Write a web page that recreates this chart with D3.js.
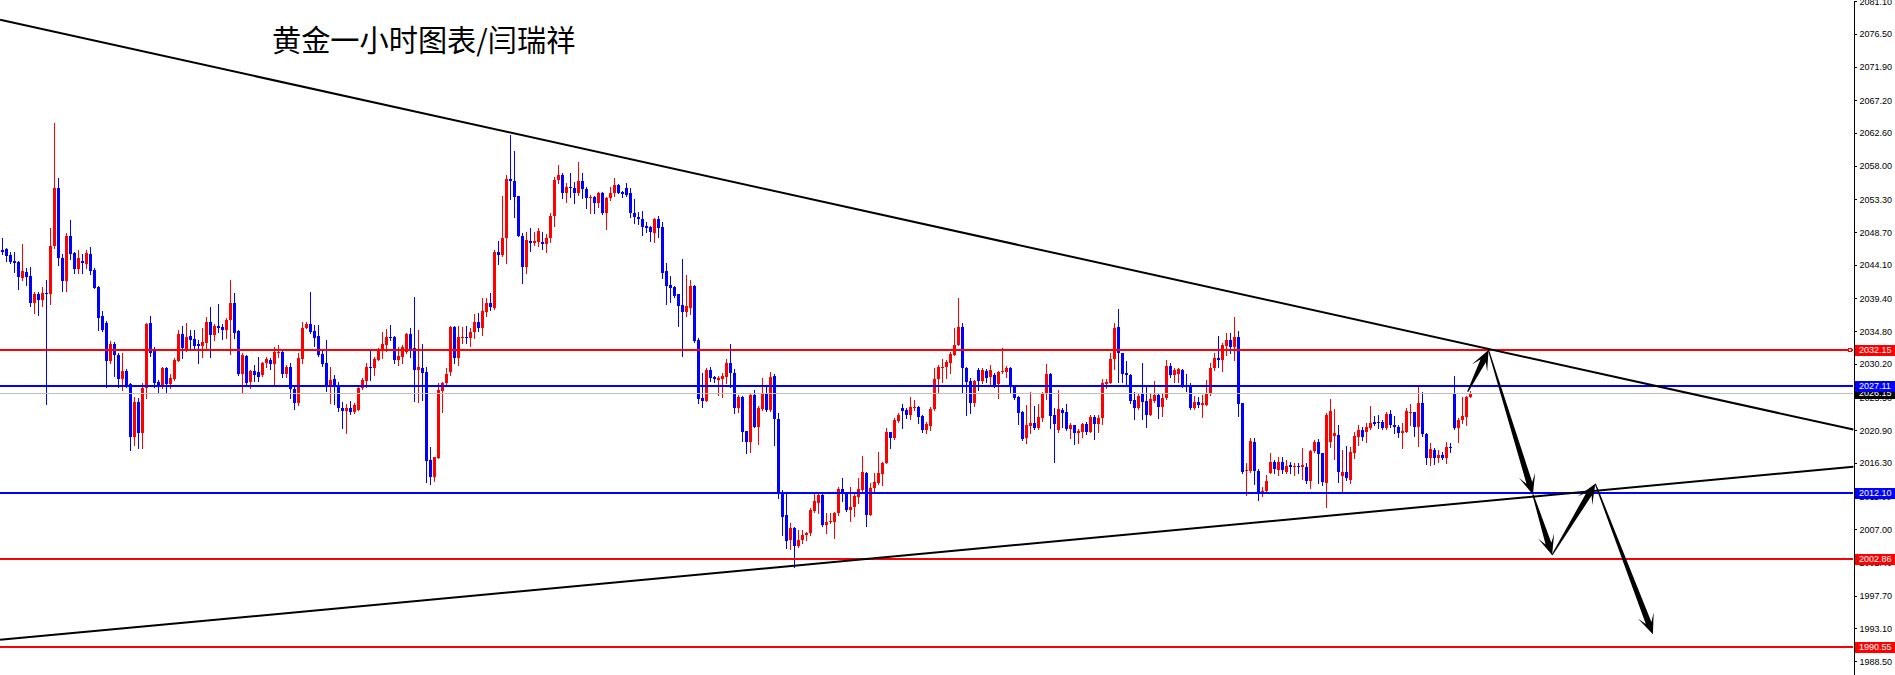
<!DOCTYPE html>
<html><head><meta charset="utf-8">
<script src="https://cdn.jsdelivr.net/npm/d3@7"></script>
<style>html,body{margin:0;padding:0;background:#fff;overflow:hidden}</style>
</head><body><svg id="c" width="1895" height="675"></svg>
<script>
const title = "黄金一小时图表/闫瑞祥";

const open = [
2046.24,2046.33,2045.49,2044.65,2044.46,2042.31,2043.11,2042.55,2038.80,2040.02,
2039.18,2040.16,2039.97,2046.75,2054.85,2045.02,2041.84,2048.16,2045.73,2043.53,
2044.65,2044.23,2045.63,2043.39,2041.05,2036.93,2036.00,2030.62,2032.96,2031.46,
2028.09,2029.22,2027.39,2020.00,2024.91,2020.47,2026.78,2036.00,2032.07,2027.72,
2027.16,2029.68,2027.39,2028.05,2030.67,2034.41,2032.16,2034.13,2033.66,2033.00,
2032.72,2033.19,2036.14,2034.27,2035.53,2035.44,2034.97,2036.37,2038.80,2034.88,
2028.75,2031.32,2027.67,2029.22,2029.08,2028.61,2030.29,2030.76,2030.15,2031.79,
2031.88,2028.80,2029.82,2026.74,2024.68,2030.90,2035.29,2035.81,2034.82,2034.12,
2031.60,2030.29,2027.15,2028.04,2027.15,2024.07,2023.60,2023.97,2023.46,2023.74,
2026.78,2027.86,2029.73,2029.59,2030.76,2032.25,2032.86,2033.94,2034.03,2030.76,
2031.22,2031.92,2034.40,2032.39,2029.35,2029.59,2029.07,2016.73,2014.39,2017.05,
2026.45,2027.48,2029.12,2035.43,2031.08,2033.89,2034.03,2033.89,2034.64,2036.13,
2035.20,2037.54,2038.80,2038.01,2045.96,2045.49,2047.83,2056.15,2055.87,2053.77,
2048.20,2043.85,2047.45,2047.22,2047.36,2047.31,2047.08,2047.92,2050.96,2056.01,
2056.71,2054.14,2054.98,2054.84,2054.14,2055.87,2054.70,2053.44,2053.67,2052.74,
2054.14,2051.33,2053.44,2054.14,2055.31,2054.37,2054.84,2054.23,2051.43,2050.87,
2050.54,2049.56,2049.46,2048.53,2050.54,2049.46,2043.24,2041.28,2041.04,2039.97,
2038.47,2037.44,2038.00,2041.14,2033.56,2025.38,2025.05,2029.35,2028.32,2027.95,
2028.04,2028.42,2030.38,2028.98,2023.97,2025.52,2020.79,2019.30,2025.85,2021.40,
2023.83,2026.17,2023.74,2028.51,2022.43,2012.28,2009.01,2005.51,2007.24,2004.71,
2005.51,2006.21,2006.45,2009.58,2010.75,2011.82,2007.66,2007.99,2007.99,2009.25,
2012.62,2012.29,2009.72,2010.09,2011.59,2012.52,2014.96,2009.02,2012.76,2013.55,
2014.77,2016.36,2020.62,2019.77,2022.25,2024.08,2023.75,2023.05,2023.98,2024.22,
2022.91,2020.94,2021.55,2023.89,2028.05,2029.69,2029.74,2030.39,2031.47,2032.87,
2035.44,2029.60,2027.82,2024.78,2029.36,2027.82,2029.27,2028.43,2028.66,2027.40,
2029.04,2029.08,2029.60,2027.12,2025.53,2023.52,2019.87,2021.55,2021.97,2021.18,
2022.67,2026.09,2028.80,2023.05,2020.94,2023.75,2023.47,2021.04,2021.64,2020.48,
2020.71,2021.78,2020.71,2022.81,2021.74,2022.58,2027.40,2027.59,2030.86,2035.35,
2031.79,2028.89,2028.66,2025.15,2023.98,2025.95,2025.01,2023.05,2025.06,2025.85,
2024.22,2025.39,2029.92,2028.66,2028.75,2029.36,2027.12,2027.12,2024.08,2024.83,
2024.45,2024.45,2026.09,2029.60,2031.00,2030.76,2032.73,2033.57,2032.64,2034.04,
2024.69,2015.19,2015.19,2019.31,2015.24,2012.29,2012.38,2014.96,2016.50,2015.33,
2016.41,2015.10,2015.99,2015.71,2015.89,2015.80,2015.80,2013.83,2017.99,2019.31,
2017.67,2013.55,2019.31,2020.10,2020.24,2014.53,2015.10,2013.93,2017.76,2020.01,
2020.94,2020.71,2021.18,2022.02,2022.02,2022.02,2021.18,2023.19,2021.64,2021.41,
2020.57,2020.71,2023.38,2023.42,2021.32,2024.78,2020.33,2017.06,2018.14,2017.06,
2017.43,2017.06,2018.61,2025.99,2021.27,2022.34,2022.81,2025.62];

const high = [
2047.83,2046.52,2045.96,2045.96,2044.65,2047.03,2043.62,2043.86,2040.35,2040.35,
2040.96,2041.98,2049.23,2064.06,2056.25,2045.63,2048.53,2050.40,2045.96,2046.19,
2045.63,2046.19,2046.66,2043.71,2041.14,2037.63,2036.28,2033.47,2033.33,2031.69,
2031.69,2029.45,2027.58,2025.62,2025.38,2027.58,2035.90,2036.93,2032.54,2027.95,
2029.82,2029.82,2028.80,2030.99,2034.97,2035.53,2035.90,2034.97,2034.97,2033.57,
2035.20,2036.75,2038.15,2035.76,2038.62,2035.76,2036.61,2041.98,2040.21,2034.97,
2031.69,2031.46,2029.36,2030.06,2031.23,2030.48,2031.23,2031.09,2032.54,2032.86,
2032.16,2030.06,2030.29,2026.92,2031.79,2036.04,2036.13,2040.34,2035.67,2035.67,
2032.16,2033.56,2029.82,2028.65,2027.72,2024.91,2024.54,2025.00,2024.68,2027.01,
2028.18,2030.29,2032.02,2031.13,2032.40,2034.73,2035.06,2035.67,2034.12,2032.63,
2032.86,2034.59,2035.20,2039.64,2034.96,2033.00,2029.82,2018.60,2017.19,2027.48,
2027.72,2029.59,2035.53,2035.50,2035.53,2035.34,2035.53,2035.20,2037.16,2037.30,
2039.41,2039.41,2040.11,2046.19,2047.50,2053.77,2056.71,2062.33,2060.08,2053.80,
2048.62,2048.76,2049.23,2048.76,2049.23,2048.76,2048.39,2051.43,2056.48,2058.12,
2056.95,2055.54,2056.95,2055.78,2058.58,2056.95,2055.08,2053.91,2053.77,2054.28,
2054.28,2053.67,2055.08,2056.34,2055.40,2054.47,2055.54,2054.84,2053.30,2051.47,
2051.66,2050.16,2049.56,2050.63,2050.96,2050.16,2044.32,2042.54,2041.14,2040.00,
2044.93,2042.68,2041.98,2041.28,2033.80,2028.88,2029.59,2029.73,2028.56,2028.51,
2028.88,2030.85,2033.00,2029.45,2025.85,2025.70,2020.80,2026.08,2026.55,2024.30,
2028.28,2027.25,2029.12,2028.79,2023.27,2012.50,2011.91,2007.94,2007.38,2006.91,
2006.91,2006.68,2009.95,2012.06,2012.06,2012.06,2009.25,2009.35,2009.40,2013.00,
2014.16,2012.30,2012.99,2012.06,2014.16,2017.30,2015.10,2013.46,2014.86,2017.81,
2016.50,2021.18,2020.70,2022.58,2023.38,2024.59,2023.98,2025.62,2025.15,2024.30,
2023.05,2022.11,2024.22,2029.60,2030.06,2030.86,2030.76,2031.93,2035.21,2039.51,
2035.91,2029.74,2028.19,2027.96,2029.60,2029.60,2029.46,2030.06,2028.90,2029.27,
2032.40,2029.92,2029.74,2027.26,2025.71,2023.60,2024.45,2026.23,2024.31,2024.59,
2026.32,2030.20,2028.90,2023.98,2026.56,2024.08,2024.59,2021.88,2021.70,2021.04,
2021.88,2022.11,2023.05,2023.05,2023.05,2028.05,2028.05,2031.70,2036.00,2037.92,
2031.80,2030.62,2028.75,2026.32,2026.09,2030.39,2027.02,2026.18,2027.82,2026.18,
2026.09,2030.76,2030.39,2029.60,2029.60,2029.46,2028.80,2027.49,2025.76,2025.62,
2025.85,2027.96,2030.30,2031.70,2034.18,2033.10,2034.51,2034.51,2036.85,2034.83,
2024.78,2016.36,2019.77,2019.87,2015.47,2012.99,2014.63,2017.67,2016.73,2017.20,
2017.20,2016.73,2016.50,2016.27,2016.36,2018.37,2016.27,2018.14,2019.54,2019.63,
2017.76,2023.28,2025.25,2023.84,2021.64,2018.14,2018.70,2018.60,2020.71,2021.64,
2021.41,2021.88,2024.31,2022.91,2023.05,2022.35,2023.52,2023.75,2022.91,2021.64,
2021.88,2023.98,2024.54,2023.52,2027.02,2026.32,2020.47,2019.07,2018.37,2018.14,
2017.90,2019.31,2019.17,2028.52,2022.58,2025.62,2025.71,2026.46];

const low = [
2045.63,2044.65,2044.32,2043.15,2040.72,2041.98,2041.28,2038.38,2037.40,2037.07,
2038.38,2024.54,2038.62,2046.50,2044.09,2040.44,2040.44,2044.88,2042.92,2043.01,
2042.92,2043.62,2042.83,2040.80,2034.97,2034.90,2027.02,2030.29,2028.51,2027.02,
2026.55,2027.02,2018.13,2018.83,2018.37,2018.37,2025.47,2031.32,2027.02,2026.32,
2026.78,2026.18,2026.78,2027.95,2030.60,2031.09,2032.07,2032.40,2032.26,2030.29,
2031.23,2032.16,2031.23,2033.57,2034.74,2033.66,2033.89,2031.60,2033.89,2028.70,
2026.08,2027.11,2026.78,2027.81,2027.86,2028.51,2029.82,2029.45,2027.39,2031.23,
2028.42,2028.33,2025.47,2023.84,2024.44,2030.29,2035.20,2034.50,2032.72,2031.32,
2029.91,2026.45,2024.68,2024.58,2023.60,2021.26,2020.47,2023.13,2023.27,2023.70,
2026.64,2027.01,2027.95,2028.65,2030.70,2031.04,2032.06,2033.56,2030.38,2030.05,
2030.38,2031.78,2031.22,2025.00,2024.91,2025.14,2013.68,2013.31,2013.82,2017.00,
2023.41,2027.25,2028.65,2030.29,2030.05,2033.09,2033.19,2032.72,2033.80,2034.87,
2034.26,2036.93,2037.77,2037.95,2044.18,2045.35,2044.41,2053.35,2050.87,2048.10,
2041.51,2043.01,2046.10,2046.89,2046.75,2046.38,2045.86,2047.36,2049.56,2055.54,
2053.53,2052.97,2053.58,2052.74,2053.91,2053.44,2052.04,2051.43,2051.33,2052.18,
2051.24,2049.14,2053.20,2053.77,2054.14,2053.67,2053.81,2050.77,2049.93,2049.79,
2048.29,2048.76,2047.50,2047.36,2048.06,2042.21,2038.61,2038.94,2039.64,2035.53,
2031.32,2036.98,2037.21,2033.24,2024.77,2024.21,2025.00,2027.81,2027.62,2025.85,
2025.61,2027.48,2027.01,2023.27,2023.50,2019.39,2017.66,2017.89,2021.31,2018.97,
2023.74,2023.60,2023.60,2018.83,2011.44,2006.20,2004.33,2004.20,2001.77,2004.57,
2005.04,2005.51,2006.20,2009.50,2009.35,2007.47,2006.45,2007.85,2005.74,2009.00,
2011.03,2009.60,2008.22,2008.92,2010.75,2012.40,2007.52,2009.00,2012.15,2013.37,
2013.23,2016.30,2018.37,2019.63,2022.10,2021.18,2022.58,2022.44,2023.75,2021.97,
2020.62,2020.48,2020.94,2023.80,2026.18,2027.73,2028.19,2028.89,2031.40,2032.80,
2026.32,2023.05,2023.28,2024.31,2026.56,2027.60,2027.73,2027.40,2027.02,2025.48,
2029.00,2028.33,2026.09,2025.29,2021.78,2019.54,2019.17,2020.48,2021.08,2021.04,
2022.25,2025.25,2021.18,2016.50,2020.71,2021.41,2020.94,2019.77,2018.98,2019.17,
2019.91,2020.38,2020.60,2019.63,2020.71,2021.78,2026.79,2027.49,2029.46,2027.73,
2027.63,2027.12,2024.78,2022.44,2023.89,2022.44,2021.41,2023.00,2024.92,2022.58,
2022.95,2025.30,2028.43,2027.73,2027.73,2027.02,2026.42,2023.84,2023.84,2024.13,
2022.81,2024.40,2025.85,2029.36,2029.83,2029.27,2031.47,2031.70,2030.76,2022.91,
2014.86,2011.82,2015.10,2013.37,2011.12,2011.68,2012.30,2014.90,2014.86,2014.63,
2014.86,2014.96,2014.86,2014.63,2014.86,2014.02,2013.55,2012.76,2017.90,2013.55,
2013.23,2010.19,2018.51,2016.83,2013.69,2012.29,2013.93,2013.46,2016.97,2018.84,
2019.54,2019.31,2021.10,2021.64,2021.18,2021.04,2021.04,2021.41,2020.47,2020.01,
2018.37,2020.60,2021.64,2020.10,2018.70,2020.10,2016.13,2016.03,2016.13,2016.50,
2016.83,2016.27,2017.90,2021.08,2019.31,2021.88,2021.64,2025.53];

const close = [
2045.96,2045.40,2044.46,2044.42,2042.45,2043.25,2042.45,2038.80,2040.02,2039.18,
2040.21,2040.02,2046.75,2054.85,2045.02,2041.84,2048.16,2045.63,2043.53,2045.02,
2044.32,2045.73,2043.25,2040.91,2036.70,2034.97,2030.62,2032.96,2031.46,2028.09,
2029.22,2027.11,2020.00,2024.91,2020.47,2026.78,2035.81,2031.79,2027.58,2027.16,
2029.59,2027.39,2028.28,2030.76,2034.41,2032.40,2034.03,2033.57,2032.72,2032.72,
2033.24,2036.14,2034.27,2035.53,2035.25,2034.97,2036.37,2038.80,2034.59,2028.75,
2031.46,2027.58,2029.22,2028.66,2028.42,2030.29,2030.85,2030.15,2031.88,2031.88,
2028.80,2029.82,2026.64,2024.68,2030.99,2035.20,2035.81,2034.73,2033.89,2031.46,
2030.15,2027.15,2027.95,2027.01,2024.07,2023.60,2024.07,2023.46,2024.44,2026.87,
2027.95,2029.73,2029.59,2030.90,2032.35,2033.00,2033.94,2033.80,2030.76,2031.32,
2032.63,2034.40,2032.16,2029.35,2029.82,2028.98,2016.63,2014.39,2017.10,2026.55,
2027.58,2028.79,2035.43,2030.99,2034.03,2034.03,2033.89,2034.64,2036.13,2035.20,
2037.63,2038.80,2038.15,2045.96,2045.49,2047.92,2056.15,2055.87,2053.67,2048.20,
2043.85,2047.59,2047.22,2047.45,2048.86,2047.08,2047.92,2050.96,2056.01,2056.71,
2054.14,2054.98,2054.84,2054.14,2055.87,2054.70,2053.44,2053.67,2052.74,2054.14,
2051.33,2053.53,2054.14,2055.31,2054.23,2054.00,2053.91,2051.33,2050.87,2050.49,
2049.46,2049.23,2048.76,2050.54,2049.32,2043.01,2041.14,2040.90,2039.73,2038.33,
2037.44,2038.33,2041.14,2033.42,2025.24,2025.05,2029.35,2028.18,2028.09,2028.28,
2028.51,2030.38,2028.88,2023.97,2025.52,2020.70,2019.30,2025.85,2021.40,2024.07,
2026.08,2023.74,2028.32,2022.43,2012.28,2008.77,2005.41,2007.24,2004.71,2005.51,
2006.21,2006.45,2009.72,2010.98,2011.82,2007.61,2008.08,2008.22,2009.35,2012.62,
2012.29,2009.72,2010.09,2011.68,2012.62,2015.00,2009.02,2012.76,2013.69,2014.96,
2016.36,2020.62,2019.77,2022.35,2023.05,2023.66,2023.05,2024.22,2024.22,2022.81,
2020.94,2021.78,2023.89,2028.10,2029.74,2029.83,2030.53,2031.61,2032.87,2035.44,
2029.60,2027.73,2024.78,2027.82,2027.82,2029.36,2028.19,2029.36,2027.26,2029.13,
2029.27,2029.60,2027.02,2025.39,2023.38,2019.68,2021.64,2021.88,2021.18,2022.81,
2026.18,2028.80,2022.95,2021.78,2023.89,2023.38,2021.04,2021.64,2020.48,2020.80,
2021.78,2020.71,2022.81,2021.74,2022.67,2027.49,2027.63,2030.91,2035.21,2031.70,
2028.80,2028.66,2025.06,2023.98,2025.76,2024.92,2023.05,2025.25,2025.85,2024.22,
2025.39,2029.92,2028.66,2029.36,2029.46,2027.12,2027.02,2024.08,2024.83,2024.45,
2024.69,2026.09,2029.60,2031.00,2030.76,2032.87,2033.57,2032.64,2034.04,2024.59,
2015.10,2015.33,2019.40,2015.24,2012.29,2012.38,2013.79,2016.41,2015.47,2016.41,
2015.33,2015.89,2015.71,2015.89,2015.71,2015.99,2013.83,2017.99,2019.21,2017.53,
2013.69,2023.05,2023.61,2020.47,2015.10,2015.10,2014.25,2017.90,2020.10,2020.94,
2020.01,2021.32,2021.88,2021.78,2021.88,2021.18,2023.19,2021.64,2021.32,2020.47,
2020.80,2023.61,2023.52,2021.32,2024.78,2020.33,2017.06,2018.23,2016.97,2017.43,
2017.06,2018.61,2018.46,2021.27,2022.34,2022.91,2025.62,2026.15];

const tickValues = [2081.10,2076.50,2071.90,2067.20,2062.60,2058.00,2053.30,2048.70,2044.10,2039.40,
  2034.80,2030.20,2025.50,2020.90,2016.30,2011.60,2007.00,2002.40,1997.70,1993.10,1988.50];

// horizontal price levels
const levelPrices = [2026.15, 2032.15, 2027.11, 2012.10, 2002.86, 1990.55];

// trend lines: [candle index, price] anchors
const upperTrendIdx = [-0.6, 462.7];
const upperTrendPrice = [2078.5, 2021.0];
const lowerTrendIdx = [-0.6, 462.7];
const lowerTrendPrice = [1991.5, 2015.8];

// projected path arrows
const arrowIdx = [366.3, 371.5, 382.6, 387.4, 398.2, 412.6];
const arrowPrice = [2026.3, 2032.15, 2011.9, 2003.4, 2013.4, 1992.3];

// ---------- drawing ----------
const W = 1895, H = 675, axisX = 1853;
const RED = "#ff0000", BLUE = "#0000ff";
const levelStyle = {
  "2026.15": {stroke: "#c0c0c0", w: 1, box: "#000000"},
  "2032.15": {stroke: RED, w: 2, box: RED, marker: true},
  "2027.11": {stroke: BLUE, w: 2, box: BLUE},
  "2012.10": {stroke: BLUE, w: 2, box: BLUE},
  "2002.86": {stroke: RED, w: 2, box: RED},
  "1990.55": {stroke: RED, w: 2, box: RED}
};

const svg = d3.select("#c");
svg.append("rect").attr("width", W).attr("height", H).attr("fill", "#fff");

const n = open.length;
const x = d3.scaleLinear().domain([0, n - 1]).range([2.5, 2.5 + 4 * (n - 1)]);
const y = d3.scaleLinear().domain([2081.27, 1986.57]).range([0, H]);

const candles = open.map((o, i) => ({i, o, h: high[i], l: low[i], c: close[i]}));

const gC = svg.append("g").attr("shape-rendering", "crispEdges");
gC.selectAll("line.wick").data(candles).join("line")
  .attr("x1", d => x(d.i)).attr("x2", d => x(d.i))
  .attr("y1", d => Math.round(y(d.h))).attr("y2", d => Math.round(y(d.l)) + 1)
  .attr("stroke", d => d.c >= d.o ? RED : BLUE).attr("stroke-width", 1);
gC.selectAll("rect.body").data(candles).join("rect")
  .attr("x", d => x(d.i) - 1.5).attr("width", 3)
  .attr("y", d => Math.round(y(Math.max(d.o, d.c))))
  .attr("height", d => Math.max(1, Math.round(y(Math.min(d.o, d.c))) - Math.round(y(Math.max(d.o, d.c)))))
  .attr("fill", d => d.c >= d.o ? RED : BLUE);

// levels
const gL = svg.append("g").attr("shape-rendering", "crispEdges");
levelPrices.forEach(p => {
  const s = levelStyle[p.toFixed(2)];
  const yy = s.w === 1 ? Math.round(y(p)) + 0.5 : Math.round(y(p));
  gL.append("line").attr("x1", 0).attr("x2", axisX).attr("y1", yy).attr("y2", yy)
    .attr("stroke", s.stroke).attr("stroke-width", s.w);
});

// trend lines
const line = d3.line().x(d => x(d[0])).y(d => y(d[1]));
[[upperTrendIdx, upperTrendPrice], [lowerTrendIdx, lowerTrendPrice]].forEach(([ix, pr]) => {
  svg.append("path").attr("d", line(ix.map((v, k) => [v, pr[k]])))
    .attr("fill", "none").attr("stroke", "#000").attr("stroke-width", 2);
});

// arrows
function arrowPoly(p0, p1, head, hw, sw) {
  const dx = p1[0] - p0[0], dy = p1[1] - p0[1], L = Math.hypot(dx, dy);
  const ux = dx / L, uy = dy / L, nx = -uy, ny = ux;
  const notch = head * 0.6;
  const pts = [
    [p0[0] + nx * 0.6, p0[1] + ny * 0.6],
    [p1[0] - ux * notch + nx * sw, p1[1] - uy * notch + ny * sw],
    [p1[0] - ux * head + nx * hw, p1[1] - uy * head + ny * hw],
    [p1[0], p1[1]],
    [p1[0] - ux * head - nx * hw, p1[1] - uy * head - ny * hw],
    [p1[0] - ux * notch - nx * sw, p1[1] - uy * notch - ny * sw],
    [p0[0] - nx * 0.6, p0[1] - ny * 0.6]
  ];
  return pts.map(p => p.join(",")).join(" ");
}
const arrowPts = arrowIdx.map((v, k) => [x(v), y(arrowPrice[k])]);
for (let k = 0; k < arrowPts.length - 1; k++) {
  svg.append("polygon").attr("points", arrowPoly(arrowPts[k], arrowPts[k + 1], 20, 8.5, 3))
    .attr("fill", "#000");
}

// axis
const axis = d3.axisRight(y).tickValues(tickValues).tickSize(3).tickSizeOuter(0)
  .tickFormat(d3.format(".2f"));
const gA = svg.append("g").attr("transform", `translate(${axisX + 0.5},0)`).call(axis);
gA.attr("shape-rendering", "crispEdges");
gA.select(".domain").attr("stroke", "#000");
gA.selectAll(".tick line").attr("stroke", "#000");
gA.selectAll(".tick text").attr("fill", "#000")
  .style("font-family", "'Liberation Sans', Arial, sans-serif").style("font-size", "9px");

// level label boxes
levelPrices.forEach(p => {
  const s = levelStyle[p.toFixed(2)];
  const yy = Math.round(y(p));
  svg.append("rect").attr("x", axisX + 2).attr("y", yy - 5).attr("width", 40).attr("height", 11)
    .attr("fill", s.box).attr("shape-rendering", "crispEdges");
  svg.append("text").attr("x", axisX + 6).attr("y", yy + 0.5).attr("dy", "0.32em")
    .attr("fill", "#fff").style("font-family", "'Liberation Sans', Arial, sans-serif")
    .style("font-size", "9px").text(p.toFixed(2));
  if (s.marker) {
    svg.append("rect").attr("x", axisX - 4.5).attr("y", yy - 1.5).attr("width", 3).attr("height", 3)
      .attr("fill", "#fff").attr("stroke", s.stroke).attr("stroke-width", 1);
  }
});

// title
svg.append("text").attr("x", 272).attr("y", 51)
  .style("font-family", "'Noto Sans CJK SC', sans-serif").style("font-size", "29.2px")
  .attr("fill", "#000").text(title);
</script>
</body></html>
